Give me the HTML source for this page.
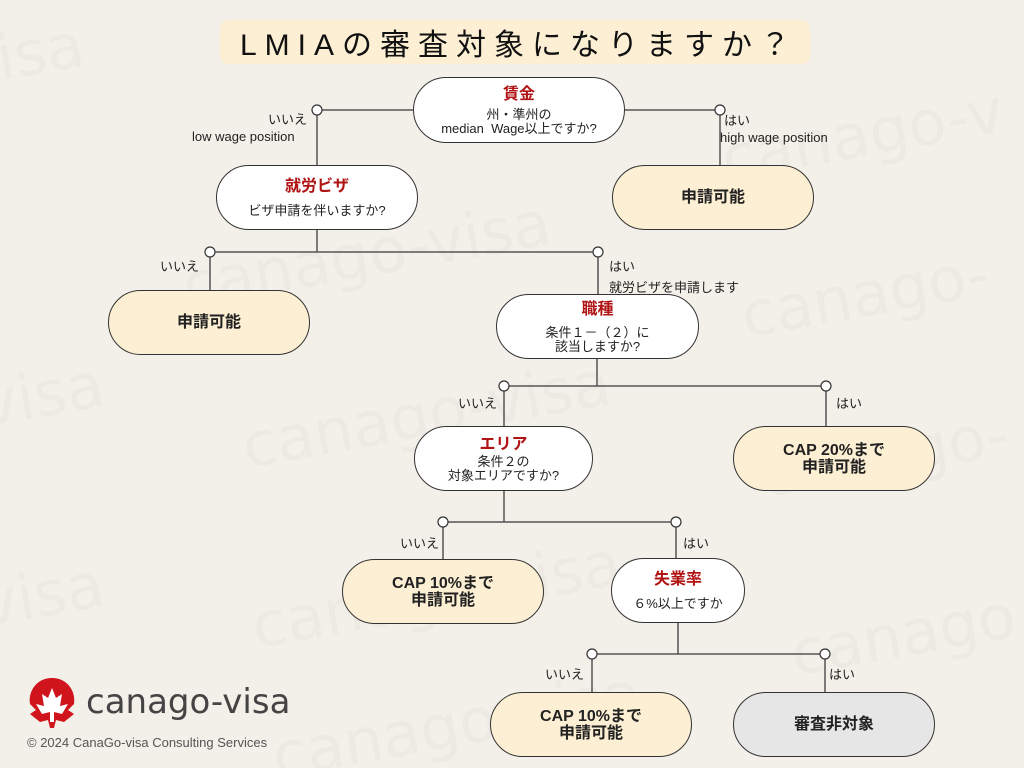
<!DOCTYPE html>
<html><head><meta charset="utf-8"><style>
*{margin:0;padding:0;box-sizing:border-box}
html{width:1024px;height:768px;overflow:hidden}
body{width:1024px;height:768px;background:#f3efe9;position:relative;overflow:hidden;font-family:"Liberation Sans","Noto Sans CJK JP",sans-serif;color:#222}
.wm{position:absolute;font-size:62px;color:#ede9e3;transform:rotate(-10deg);white-space:nowrap;font-family:"DejaVu Sans","Liberation Sans",sans-serif;line-height:70px}
.n{position:absolute;border:1.3px solid #333;border-radius:34px;background:#fff;display:flex;flex-direction:column;align-items:center;justify-content:center;text-align:center;font-size:13px;line-height:14px}
.c{background:#fcefd3}
.g{background:#e7e6e6}
.t{color:#b01414;font-weight:bold;font-size:16px;line-height:20px;margin-bottom:3px}
.b{font-weight:bold;font-size:16px;line-height:17px}
.l{position:absolute;font-size:13px;white-space:nowrap}
</style></head><body>
<div class="wm" style="left:-40px;top:20px">visa</div>
<div class="wm" style="left:180px;top:220px">canago-visa</div>
<div class="wm" style="left:720px;top:100px">canago-v</div>
<div class="wm" style="left:740px;top:260px">canago-</div>
<div class="wm" style="left:-20px;top:360px">visa</div>
<div class="wm" style="left:240px;top:380px">canago-visa</div>
<div class="wm" style="left:760px;top:420px">canago-</div>
<div class="wm" style="left:-20px;top:560px">visa</div>
<div class="wm" style="left:250px;top:560px">canago-visa</div>
<div class="wm" style="left:790px;top:600px">canago</div>
<div class="wm" style="left:270px;top:690px">canago-visa</div>

<div style="position:absolute;left:220px;top:20px;width:590px;height:44px;background:#fcefd4;border-radius:8px"></div>
<div style="position:absolute;left:220px;top:20px;width:590px;height:44px;display:flex;align-items:center;justify-content:center;font-size:30px;letter-spacing:8px;color:#111;padding-left:8px">LMIAの審査対象になりますか？</div>

<svg style="position:absolute;left:0;top:0" width="1024" height="768">
<g stroke="#555" stroke-width="1.5" fill="none">
<path d="M413 110H317V165M625 110H720V165"/>
<path d="M317 230V252M210 252H598M210 252V290M598 252V294"/>
<path d="M597 359V386M504 386H826M504 386V426M826 386V426"/>
<path d="M504 491V522M443 522H676M443 522V559M676 522V558"/>
<path d="M678 623V654M592 654H825M592 654V692M825 654V692"/>
</g>
<g stroke="#333" stroke-width="1.2" fill="#fff">
<circle cx="317" cy="110" r="5"/><circle cx="720" cy="110" r="5"/>
<circle cx="210" cy="252" r="5"/><circle cx="598" cy="252" r="5"/>
<circle cx="504" cy="386" r="5"/><circle cx="826" cy="386" r="5"/>
<circle cx="443" cy="522" r="5"/><circle cx="676" cy="522" r="5"/>
<circle cx="592" cy="654" r="5"/><circle cx="825" cy="654" r="5"/>
</g>
<g transform="translate(26,674)">
<path d="M26 4 C10 4 2 18 4 30 L10 36 L4 40 L14 48 L22 46 L24 54 L28 54 L30 46 L38 48 L48 40 L42 36 L48 30 C50 18 42 4 26 4Z" fill="#d0141c"/>
<path d="M26 14 L30 24 L36 20 L34 32 L42 30 L36 40 L28 38 L28 48 L24 48 L24 38 L16 40 L10 30 L18 32 L16 20 L22 24Z" fill="#fff"/>
</g>
</svg>

<div class="n" style="left:413px;top:77px;width:212px;height:66px"><div class="t">賃金</div>州・準州の<br>median&nbsp; Wage以上ですか?</div>
<div class="n c" style="left:612px;top:165px;width:202px;height:65px"><div class="b">申請可能</div></div>
<div class="n" style="left:216px;top:165px;width:202px;height:65px"><div class="t" style="margin-bottom:7px">就労ビザ</div>ビザ申請を伴いますか?</div>
<div class="n c" style="left:108px;top:290px;width:202px;height:65px"><div class="b">申請可能</div></div>
<div class="n" style="left:496px;top:294px;width:203px;height:65px"><div class="t" style="margin-bottom:6px">職種</div>条件１－（２）に<br>該当しますか?</div>
<div class="n c" style="left:733px;top:426px;width:202px;height:65px"><div class="b">CAP 20%まで<br>申請可能</div></div>
<div class="n" style="left:414px;top:426px;width:179px;height:65px"><div class="t" style="margin-bottom:0">エリア</div>条件２の<br>対象エリアですか?</div>
<div class="n c" style="left:342px;top:559px;width:202px;height:65px"><div class="b">CAP 10%まで<br>申請可能</div></div>
<div class="n" style="left:611px;top:558px;width:134px;height:65px"><div class="t" style="margin-bottom:7px">失業率</div>６%以上ですか</div>
<div class="n c" style="left:490px;top:692px;width:202px;height:65px"><div class="b">CAP 10%まで<br>申請可能</div></div>
<div class="n g" style="left:733px;top:692px;width:202px;height:65px"><div class="b">審査非対象</div></div>

<div class="l" style="left:268px;top:109px">いいえ</div>
<div class="l" style="left:192px;top:129px">low wage position</div>
<div class="l" style="left:724px;top:110px">はい</div>
<div class="l" style="left:720px;top:130px">high wage position</div>
<div class="l" style="left:160px;top:256px">いいえ</div>
<div class="l" style="left:609px;top:256px">はい</div>
<div class="l" style="left:609px;top:277px">就労ビザを申請します</div>
<div class="l" style="left:458px;top:393px">いいえ</div>
<div class="l" style="left:836px;top:393px">はい</div>
<div class="l" style="left:400px;top:533px">いいえ</div>
<div class="l" style="left:683px;top:533px">はい</div>
<div class="l" style="left:545px;top:664px">いいえ</div>
<div class="l" style="left:829px;top:664px">はい</div>

<div style="position:absolute;left:86px;top:682px;font-size:34px;color:#444;font-family:'DejaVu Sans','Liberation Sans',sans-serif">canago-visa</div>
<div style="position:absolute;left:27px;top:735px;font-size:13px;color:#555">© 2024 CanaGo-visa Consulting Services</div>
</body></html>
